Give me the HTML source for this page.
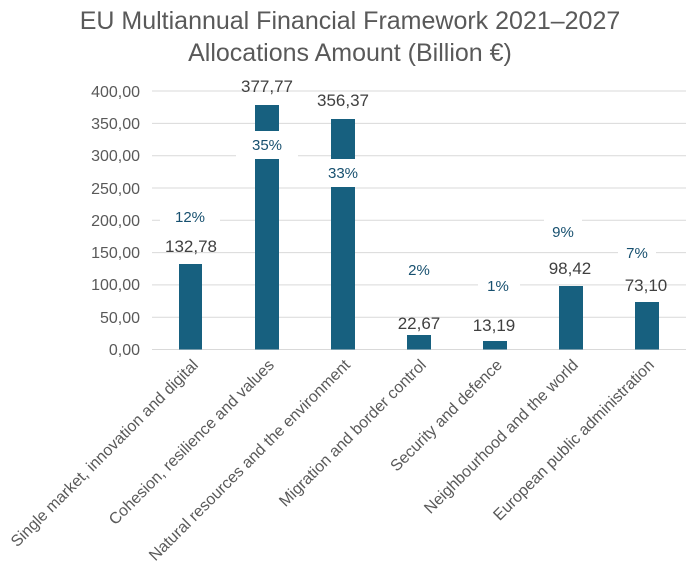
<!DOCTYPE html>
<html><head><style>body{margin:0;background:#fff}svg{display:block}</style></head><body>
<svg width="695" height="572" xmlns="http://www.w3.org/2000/svg" font-family="Liberation Sans, sans-serif">
<rect width="695" height="572" fill="#fff"/>
<text x="350" y="29" font-size="25" fill="#595959" text-anchor="middle">EU Multiannual Financial Framework 2021–2027</text>
<text x="350" y="61" font-size="25" fill="#595959" text-anchor="middle">Allocations Amount (Billion €)</text>
<g stroke="#d9d9d9" stroke-width="1">
<line x1="152" x2="686" y1="349.5" y2="349.5"/><line x1="152" x2="686" y1="317.2" y2="317.2"/>
<line x1="152" x2="686" y1="284.9" y2="284.9"/><line x1="152" x2="686" y1="252.6" y2="252.6"/>
<line x1="152" x2="686" y1="220.3" y2="220.3"/><line x1="152" x2="686" y1="188" y2="188"/>
<line x1="152" x2="686" y1="155.7" y2="155.7"/><line x1="152" x2="686" y1="123.4" y2="123.4"/>
<line x1="152" x2="686" y1="91" y2="91"/>
</g>
<g font-size="16" fill="#595959" text-anchor="end">
<text x="140" y="355">0,00</text><text x="140" y="323">50,00</text><text x="140" y="290">100,00</text>
<text x="140" y="258">150,00</text><text x="140" y="226">200,00</text><text x="140" y="194">250,00</text>
<text x="140" y="161">300,00</text><text x="140" y="129">350,00</text><text x="140" y="97">400,00</text>
</g>
<g fill="#17607f">
<rect x="179" y="264" width="23" height="85.5"/>
<rect x="255" y="105" width="24" height="244.5"/>
<rect x="331" y="119" width="24" height="230.5"/>
<rect x="407" y="335" width="24" height="14.5"/>
<rect x="483" y="341" width="24" height="8.5"/>
<rect x="559" y="286" width="24" height="63.5"/>
<rect x="635" y="302" width="24" height="47.5"/>
</g>
<g fill="#fff">
<rect x="160" y="202" width="60" height="28"/>
<rect x="236" y="131" width="62" height="28"/>
<rect x="312" y="159" width="62" height="28"/>
<rect x="398" y="256" width="42" height="28"/>
<rect x="478" y="272" width="42" height="28"/>
<rect x="544" y="218" width="38" height="28"/>
<rect x="618" y="239" width="38" height="28"/>
</g>
<g font-size="15" fill="#17506f" text-anchor="middle">
<text x="190" y="222">12%</text><text x="267" y="150">35%</text><text x="343" y="178">33%</text>
<text x="419" y="275">2%</text><text x="498" y="291">1%</text><text x="563" y="237">9%</text><text x="637" y="258">7%</text>
</g>
<g font-size="17" fill="#404040" text-anchor="middle">
<text x="191" y="252">132,78</text><text x="267" y="92">377,77</text><text x="343" y="106">356,37</text>
<text x="419" y="329">22,67</text><text x="494" y="331">13,19</text><text x="570" y="274">98,42</text><text x="646" y="291">73,10</text>
</g>
<g font-size="16" fill="#595959" text-anchor="end">
<text transform="translate(199,366) rotate(-45)">Single market, innovation and digital</text>
<text transform="translate(275,366) rotate(-45)">Cohesion, resilience and values</text>
<text transform="translate(351,366) rotate(-45)">Natural resources and the environment</text>
<text transform="translate(427,366) rotate(-45)">Migration and border control</text>
<text transform="translate(503,366) rotate(-45)">Security and defence</text>
<text transform="translate(579,366) rotate(-45)">Neighbourhood and the world</text>
<text transform="translate(655,366) rotate(-45)">European public administration</text>
</g>
</svg>
</body></html>
